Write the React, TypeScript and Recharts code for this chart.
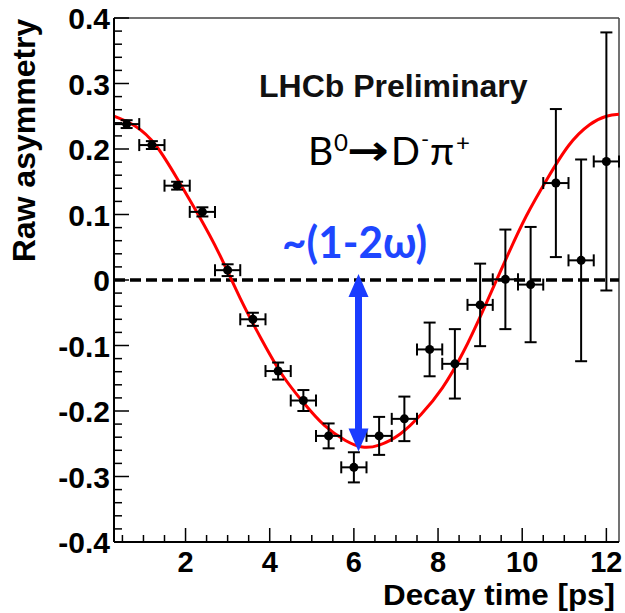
import {
  ComposedChart,
  Line,
  Scatter,
  ErrorBar,
  XAxis,
  YAxis,
  ReferenceLine,
  Customized,
} from "recharts";

// binned raw asymmetry
const binCentres = [0.6, 1.2, 1.8, 2.4, 3.0, 3.6, 4.2, 4.8, 5.4, 6.0, 6.6, 7.2, 7.8, 8.4, 9.0, 9.6, 10.2, 10.8, 11.4, 12.0];
const asymmetry = [0.238, 0.206, 0.144, 0.104, 0.015, -0.06, -0.139, -0.184, -0.238, -0.286, -0.238, -0.212, -0.106, -0.128, -0.038, 0.001, -0.007, 0.148, 0.03, 0.181];
const asymErr = [0.006, 0.006, 0.006, 0.007, 0.009, 0.01, 0.013, 0.016, 0.019, 0.023, 0.029, 0.034, 0.041, 0.053, 0.063, 0.076, 0.088, 0.113, 0.154, 0.197];
const halfBin = 0.3;

// fitted curve
const fitT = [0.3, 0.8, 1.3, 1.8, 2.3, 2.8, 3.3, 3.8, 4.3, 4.8, 5.3, 5.8, 6.2, 6.6, 7.1, 7.6, 8.1, 8.6, 9.1, 9.6, 10.1, 10.6, 11.1, 11.6, 12.0, 12.3];
const fitY = [0.25, 0.235, 0.205, 0.155, 0.1, 0.04, -0.028, -0.09, -0.145, -0.187, -0.222, -0.245, -0.255, -0.252, -0.235, -0.205, -0.165, -0.11, -0.042, 0.03, 0.098, 0.155, 0.205, 0.237, 0.25, 0.253];

const yMajor = [-0.4, -0.3, -0.2, -0.1, 0, 0.1, 0.2, 0.3, 0.4];
const xMajor = [2, 4, 6, 8, 10, 12];

// minor ticks: 5 per 0.1 on y, 4 per 2 on x
const yTicks: number[] = [];
for (let i = -20; i <= 20; i++) yTicks.push(Math.round(i * 2) / 100);
const xTicks: number[] = [];
for (let i = 1; i <= 24; i++) xTicks.push(i * 0.5);

const points = binCentres.map((t, i) => ({ t, asym: asymmetry[i], ex: halfBin, ey: asymErr[i] }));
const curve = fitT.map((t, i) => ({ t, fit: fitY[i] }));

const labelFont = "'Liberation Sans', Arial, sans-serif";
const blue = "#1e46ff";

function YTick(props: any) {
  const { x, y, payload } = props;
  const v = payload.value;
  const ax = x + 4;
  const major = yMajor.some((m) => Math.abs(m - v) < 1e-6);
  return (
    <g>
      <line x1={ax} x2={ax + (major ? 15 : 8)} y1={y} y2={y} stroke="#000" strokeWidth={1.5} />
      {major && (
        <text x={x} y={y + 11} textAnchor="end" fontFamily={labelFont} fontWeight="bold" fontSize={30} fill="#000">
          {String(Math.round(v * 10) / 10)}
        </text>
      )}
    </g>
  );
}

function XTick(props: any) {
  const { x, y, payload } = props;
  const v = payload.value;
  const major = xMajor.includes(v);
  return (
    <g>
      <line x1={x} x2={x} y1={y} y2={y - (major ? 14 : 7)} stroke="#000" strokeWidth={1.5} />
      {major && (
        <text x={x} y={y + 30} textAnchor="middle" fontFamily={labelFont} fontWeight="bold" fontSize={29} fill="#000">
          {v}
        </text>
      )}
    </g>
  );
}

function DoubleArrow(props: any) {
  const { x1, y1, y2 } = props;
  const top = Math.min(y1, y2);
  const bot = Math.max(y1, y2);
  const hw = 10;
  const hl = 23;
  return (
    <g fill="#1a3cff">
      <rect x={x1 - 3.5} y={top + hl - 2} width={7} height={bot - top - 2 * hl + 4} />
      <polygon points={`${x1},${top} ${x1 - hw},${top + hl} ${x1 + hw},${top + hl}`} />
      <polygon points={`${x1},${bot} ${x1 - hw},${bot - hl} ${x1 + hw},${bot - hl}`} />
    </g>
  );
}

function Annotations() {
  const calibri = "Lato, 'Open Sans', sans-serif";
  return (
    <g>
      <text x={35} y={140.5} transform="rotate(-90 35 140.5)" textAnchor="middle" fontFamily={labelFont} fontWeight="bold" fontSize={32} fill="#000">
        Raw asymmetry
      </text>
      <text x={615} y={605} textAnchor="end" fontFamily={labelFont} fontWeight="bold" fontSize={30} fill="#000" textLength={232} lengthAdjust="spacingAndGlyphs">
        Decay time [ps]
      </text>
      <text x={259} y={97} fontFamily={labelFont} fontWeight="bold" fontSize={32} fill="#111">
        LHCb Preliminary
      </text>
      <g fontFamily={calibri} fill="#000">
        <text x={308} y={165} fontSize={39}>B</text>
        <text x={334} y={151} fontSize={24}>0</text>
        <text x={347} y={165} fontSize={42} fontFamily="'DejaVu Sans', sans-serif" fontWeight="bold" textLength={42} lengthAdjust="spacingAndGlyphs">→</text>
        <text x={391} y={165} fontSize={38}>D</text>
        <text x={421} y={147} fontSize={22}>-</text>
        <text x={430} y={165} fontSize={39}>π</text>
        <text x={456} y={151} fontSize={24}>+</text>
      </g>
      <text x={282} y={258} fontFamily={calibri} fontWeight="bold" fontSize={44} fill={blue} textLength={145} lengthAdjust="spacingAndGlyphs">
        ~(1-2ω)
      </text>
    </g>
  );
}

export default function App() {
  return (
    <div style={{ position: "absolute", left: 0, top: 0, width: 625, height: 613, background: "#fff" }}>
      <ComposedChart width={625} height={613} margin={{ top: 18, right: 6, bottom: 0, left: 0 }}>
        <XAxis
          dataKey="t"
          type="number"
          domain={[0.3, 12.3]}
          ticks={xTicks}
          interval={0}
          height={71}
          tickSize={0}
          tickMargin={0}
          tickLine={false}
          axisLine={{ stroke: "#000", strokeWidth: 2 }}
          tick={<XTick />}
          allowDataOverflow
        />
        <YAxis
          type="number"
          domain={[-0.4, 0.4]}
          ticks={yTicks}
          interval={0}
          width={114}
          tickSize={0}
          tickMargin={4}
          tickLine={false}
          axisLine={{ stroke: "#000", strokeWidth: 2 }}
          tick={<YTick />}
          allowDataOverflow
        />
        <ReferenceLine y={0.4} stroke="#444" strokeWidth={1.5} />
        <ReferenceLine x={12.3} stroke="#444" strokeWidth={1.5} />
        <ReferenceLine y={0} stroke="#000" strokeWidth={3.5} strokeDasharray="11 5" />
        <Line data={curve} dataKey="fit" type="natural" dot={false} stroke="#ff0000" strokeWidth={3} isAnimationActive={false} />
        <Scatter data={points} dataKey="asym" fill="#000" isAnimationActive={false}>
          <ErrorBar dataKey="ex" direction="x" width={6} stroke="#000" strokeWidth={2} />
          <ErrorBar dataKey="ey" direction="y" width={6} stroke="#000" strokeWidth={2} />
        </Scatter>
        <ReferenceLine
          segment={[{ x: 6.11, y: 0.009 }, { x: 6.11, y: -0.262 }]}
          shape={(p: any) => <DoubleArrow {...p} />}
        />
        <Customized component={Annotations} />
      </ComposedChart>
    </div>
  );
}
